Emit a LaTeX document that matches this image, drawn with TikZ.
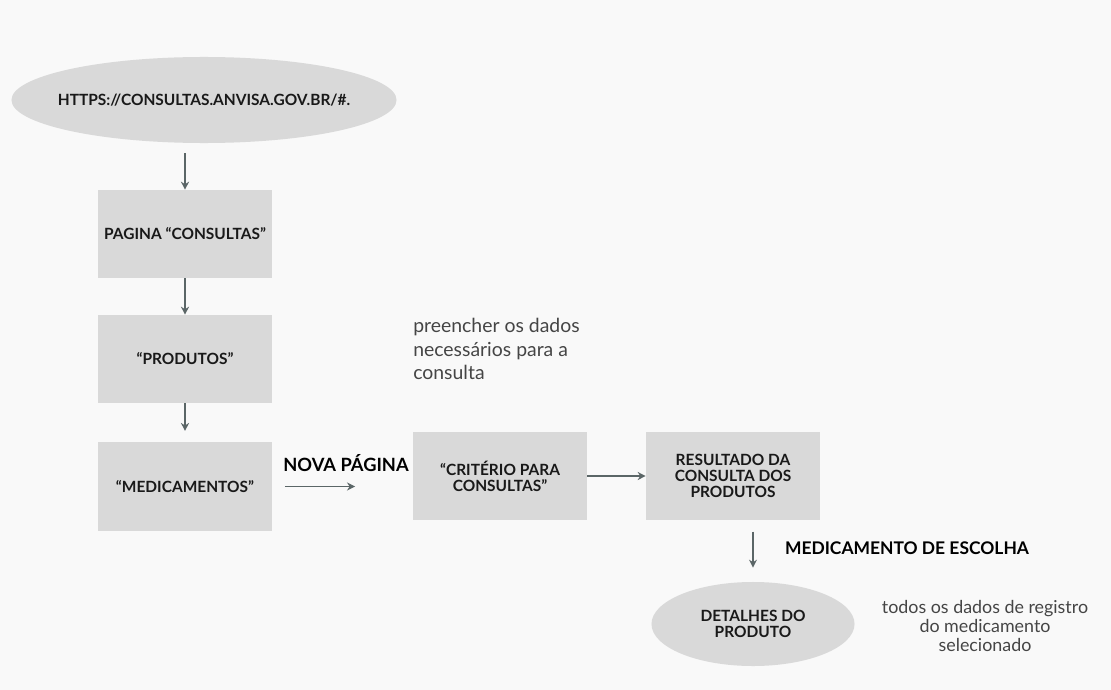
\documentclass[tikz,border=0pt]{standalone}
\usepackage{fontspec}
\setmainfont{Lato}
\usetikzlibrary{arrows.meta, positioning, shapes.geometric}
\definecolor{boxgray}{HTML}{D9D9D9}
\definecolor{arrgray}{HTML}{5B6667}
\definecolor{bggray}{HTML}{F9F9F9}
\definecolor{notegray}{HTML}{454545}
\tikzset{
  box/.style={fill=boxgray, minimum height=2.2cm, minimum width=4.35cm, inner sep=2pt,
    align=center, text=black!90, font=\bfseries\fontsize{11}{11.3}\selectfont},
  oval/.style={ellipse, fill=boxgray, inner sep=0pt, align=center, text=black!90,
    font=\bfseries\fontsize{11}{11.3}\selectfont},
  arr/.style={-{Stealth[length=2mm, width=2mm]}, line width=1.4pt, draw=arrgray},
  note/.style={align=left, inner sep=0pt, text=notegray, font=\fontsize{13.8}{16.7}\selectfont},
  tag/.style={text=black, font=\bfseries\fontsize{13}{15}\selectfont},
}
\begin{document}
\begin{tikzpicture}[x=0.025cm, y=-0.025cm]
    \fill[bggray] (0,0) rectangle (1111,690);
    \useasboundingbox (0,0) rectangle (1111,690);
    % coluna da esquerda
    \node[oval, inner xsep=-12pt, minimum width=9.625cm, minimum height=2.15cm] (url) at (204,100) {HTTPS://CONSULTAS.ANVISA.GOV.BR/\#.};
    \node[box] (pag) at (185,234) {PAGINA “CONSULTAS”};
    \node[box] (prod) at (185,359) {“PRODUTOS”};
    \node[box] (med) at (185,486.5) {“MEDICAMENTOS”};
    % nova pagina
    \node[tag] (nova) at (346,463) {NOVA PÁGINA};
    \node[note, anchor=north west] (preen) at (413,318) {preencher os dados\\necessários para a\\consulta};
    \node[box] (crit) at (500,476) {“CRITÉRIO PARA\\CONSULTAS”};
    \node[box] (res) at (733,476) {RESULTADO DA\\CONSULTA DOS\\PRODUTOS};
    \node[tag, font=\bfseries\fontsize{12.4}{15}\selectfont] (esc) at (907,548) {MEDICAMENTO DE ESCOLHA};
    \node[oval, minimum width=5.075cm, minimum height=2.1cm] (det) at (753,624) {DETALHES DO\\PRODUTO};
    \node[note, align=center, font=\fontsize{12.7}{13.3}\selectfont] (todos) at (985,626) {todos os dados de registro\\do medicamento\\selecionado};
    % setas
    \draw[arr, shorten <=7pt] (url.south -| pag.north) -- (pag.north);
    \draw[arr] (pag) -- (prod);
    \draw[arr, shorten >=8pt] (prod) -- (med);
    \draw[arr, shorten <=9pt, shorten >=41pt] (med.east) -- (med.east -| crit.west);
    \draw[arr] (crit) -- (res);
    \draw[arr, shorten <=8pt, shorten >=10pt] (res.south -| det.north) -- (det.north);
\end{tikzpicture}
\end{document}
